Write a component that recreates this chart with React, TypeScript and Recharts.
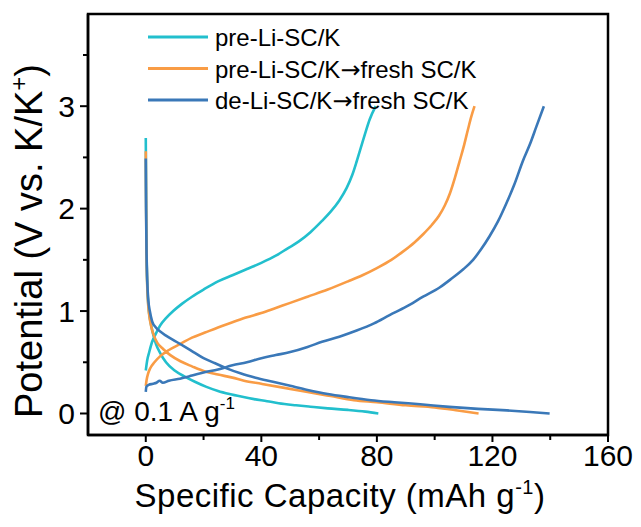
import React from 'react';
import { LineChart, Line, XAxis, YAxis, ReferenceArea } from 'recharts';

const X_TICKS = [0, 20, 40, 60, 80, 100, 120, 140, 160];
const X_LABELED = [0, 40, 80, 120, 160];
const Y_TICKS = [0, 0.5, 1, 1.5, 2, 2.5, 3, 3.5];
const Y_LABELED = [0, 1, 2, 3];

const SERIES_NAMES = ['pre-Li-SC/K', 'pre-Li-SC/K\u2192fresh SC/K', 'de-Li-SC/K\u2192fresh SC/K'];
const SERIES_COLORS = ['#22bfcd', '#f99c45', '#3a78b8'];

// [capacity mAh/g, potential V]
const PRE_LI_DISCHARGE: [number, number][] = [
  [0, 2.69], [0.1, 2.2], [0.2, 1.8], [0.35, 1.45], [0.6, 1.2], [1, 1.02], [1.6, 0.9], [2.5, 0.78],
  [3.5, 0.68], [5, 0.59], [7, 0.5], [10, 0.42], [13.5, 0.36], [17, 0.31], [21, 0.26], [25, 0.22],
  [29, 0.19], [33, 0.165], [37.5, 0.14], [42, 0.12], [46, 0.1], [52, 0.08], [57, 0.066], [63, 0.05],
  [70, 0.035], [76, 0.018], [80.5, 0.0],
];
const PRE_LI_CHARGE: [number, number][] = [
  [0, 0.42], [0.5, 0.52], [1.2, 0.6], [2.2, 0.7], [3.5, 0.78], [5, 0.86], [7, 0.93], [9.5, 1.0],
  [12.5, 1.07], [16, 1.14], [20, 1.21], [25, 1.29], [30, 1.35], [35, 1.41], [40, 1.47], [45, 1.54],
  [49, 1.61], [53, 1.68], [57, 1.77], [61, 1.88], [64, 1.97], [67, 2.08], [69.5, 2.2], [71.5, 2.33],
  [73, 2.46], [74.5, 2.6], [76, 2.74], [77.5, 2.87], [79.6, 3.0],
];

const PRE_FRESH_DISCHARGE: [number, number][] = [
  [0, 2.56], [0.1, 2.1], [0.2, 1.7], [0.4, 1.35], [0.7, 1.12], [1.1, 0.98], [1.8, 0.86], [2.8, 0.76],
  [4, 0.69], [6, 0.63], [8.5, 0.57], [12, 0.51], [16, 0.46], [20.5, 0.41], [25, 0.38], [30, 0.35],
  [34, 0.32], [40, 0.29], [48, 0.25], [56, 0.21], [64, 0.17], [72, 0.13], [80, 0.11], [90, 0.08],
  [100, 0.06], [108, 0.03], [115.2, 0.0],
];
const PRE_FRESH_CHARGE: [number, number][] = [
  [0, 0.27], [0.3, 0.33], [0.8, 0.39], [1.5, 0.44], [3, 0.5], [5, 0.56], [8, 0.62], [12, 0.68],
  [16, 0.74], [20.5, 0.79], [25, 0.84], [30, 0.89], [35, 0.94], [40, 0.98], [45, 1.03], [50, 1.08],
  [56, 1.14], [63, 1.21], [70, 1.29], [75, 1.35], [80, 1.42], [85, 1.5], [89, 1.58], [93, 1.67],
  [96, 1.75], [99, 1.84], [101.5, 1.93], [103.5, 2.03], [105.3, 2.15], [107, 2.3], [108.5, 2.45],
  [110, 2.6], [111.5, 2.77], [112.7, 2.9], [113.8, 3.0],
];

const DE_FRESH_DISCHARGE: [number, number][] = [
  [0, 2.49], [0.1, 2.0], [0.25, 1.6], [0.5, 1.3], [0.9, 1.1], [1.4, 1.0], [2.2, 0.9], [3.5, 0.84],
  [5, 0.8], [7, 0.76], [10, 0.71], [13, 0.66], [16.5, 0.6], [20, 0.54], [24, 0.49], [28, 0.44],
  [33, 0.39], [38, 0.35], [44, 0.31], [50, 0.27], [56, 0.23], [63, 0.19], [70, 0.16], [78, 0.13],
  [86, 0.11], [95, 0.09], [105, 0.065], [115, 0.045], [125, 0.03], [133, 0.015], [139.8, 0.0],
];
const DE_FRESH_CHARGE: [number, number][] = [
  [0, 0.21], [0.2, 0.26], [1, 0.28], [2.5, 0.29], [3.7, 0.3], [4.8, 0.32], [5.9, 0.3], [8, 0.32],
  [11.8, 0.34], [16, 0.37], [20, 0.4], [25, 0.43], [30, 0.47], [35, 0.5], [40, 0.54], [45, 0.57],
  [50, 0.6], [56, 0.65], [61, 0.7], [67, 0.75], [73, 0.81], [79, 0.88], [84.4, 0.96], [90, 1.04],
  [96, 1.14], [101.7, 1.23], [106, 1.32], [110, 1.41], [113.3, 1.5], [116, 1.6], [119, 1.73],
  [122, 1.88], [124.8, 2.05], [127.5, 2.23], [130.6, 2.47], [133, 2.63], [135.2, 2.8], [137.8, 3.0],
];

// discharge + a null gap + charge, so each series is one Line
const toRows = (dis: [number, number][], chg: [number, number][]) => [
  ...dis.map(([x, y]) => ({ x, y })),
  { x: chg[0][0], y: null },
  ...chg.map(([x, y]) => ({ x, y })),
];

const SERIES = [
  toRows(PRE_LI_DISCHARGE, PRE_LI_CHARGE),
  toRows(PRE_FRESH_DISCHARGE, PRE_FRESH_CHARGE),
  toRows(DE_FRESH_DISCHARGE, DE_FRESH_CHARGE),
];

const FONT = '"Liberation Sans", Arial, sans-serif';

const XTick = (props: any) => {
  const { x, y, payload } = props;
  const major = X_LABELED.includes(payload.value);
  return (
    <g>
      <line x1={x} x2={x} y1={y} y2={y + (major ? 7 : 5)} stroke="#000" strokeWidth={2} />
      {major && (
        <text x={x} y={y + 31} textAnchor="middle" fontSize={30} fill="#000" fontFamily={FONT}>
          {payload.value}
        </text>
      )}
    </g>
  );
};

const YTick = (props: any) => {
  const { x, y, payload } = props;
  const major = Y_LABELED.includes(payload.value);
  return (
    <g>
      <line x1={x - (major ? 8 : 5)} x2={x} y1={y} y2={y} stroke="#000" strokeWidth={2} />
      {major && (
        <text x={x - 13} y={y + 10.5} textAnchor="end" fontSize={30} fill="#000" fontFamily={FONT}>
          {payload.value}
        </text>
      )}
    </g>
  );
};

// legend names with the arrow drawn in DejaVu (Liberation's arrow is tiny)
const LegendName = ({ name }: { name: string }) => {
  const parts = name.split('\u2192');
  if (parts.length === 1) return <>{name}</>;
  return (
    <>
      {parts[0]}
      <tspan fontFamily="DejaVu Sans">{'\u2192'}</tspan>
      {parts[1]}
    </>
  );
};

export default function App() {
  return (
    <div style={{ position: 'absolute', left: 0, top: 0, width: 641, height: 527, background: '#fff' }}>
      <LineChart width={641} height={527} margin={{ top: 14, right: 33, bottom: 32, left: 28 }}>
        <XAxis
          type="number"
          dataKey="x"
          domain={[-20, 160]}
          allowDataOverflow
          ticks={X_TICKS}
          interval={0}
          height={60}
          tickSize={0}
          tickMargin={0}
          tickLine={false}
          axisLine={{ stroke: '#000', strokeWidth: 2.5 }}
          tick={XTick}
        />
        <YAxis
          type="number"
          dataKey="y"
          domain={[-0.21, 3.9]}
          allowDataOverflow
          ticks={Y_TICKS}
          interval={0}
          width={60}
          tickSize={0}
          tickMargin={0}
          tickLine={false}
          axisLine={{ stroke: '#000', strokeWidth: 2.5 }}
          tick={YTick}
        />
        <ReferenceArea x1={-20} x2={160} y1={-0.21} y2={3.9} fill="none" stroke="#000" strokeWidth={2.5} />
        {SERIES.map((rows, i) => (
          <Line
            key={SERIES_NAMES[i]}
            data={rows}
            dataKey="y"
            type="monotone"
            stroke={SERIES_COLORS[i]}
            strokeWidth={2.6}
            dot={false}
            activeDot={false}
            connectNulls={false}
            isAnimationActive={false}
          />
        ))}
      </LineChart>
      <svg
        width={641}
        height={527}
        style={{ position: 'absolute', left: 0, top: 0, pointerEvents: 'none' }}
        fontFamily={FONT}
      >
        {SERIES_NAMES.map((name, i) => (
          <g key={name}>
            <line x1={148} x2={208} y1={37 + i * 31.5} y2={37 + i * 31.5} stroke={SERIES_COLORS[i]} strokeWidth={3} />
            <text x={215} y={46 + i * 31.5} fontSize={24} fill="#000">
              <LegendName name={name} />
            </text>
          </g>
        ))}
        <text x={98} y={421} fontSize={28} fill="#000">
          @ 0.1 A g<tspan dy={-12} fontSize={17}>-1</tspan>
        </text>
        <text x={340} y={507} textAnchor="middle" fontSize={33} letterSpacing={0.5} fill="#000">
          Specific Capacity (mAh g<tspan dy={-13} fontSize={20}>-1</tspan>
          <tspan dy={13}>)</tspan>
        </text>
        <text transform="translate(42,241) rotate(-90)" textAnchor="middle" fontSize={38} fill="#000">
          Potential (V vs. K/K<tspan dy={-15} fontSize={24}>+</tspan>
          <tspan dy={15}>)</tspan>
        </text>
      </svg>
    </div>
  );
}
